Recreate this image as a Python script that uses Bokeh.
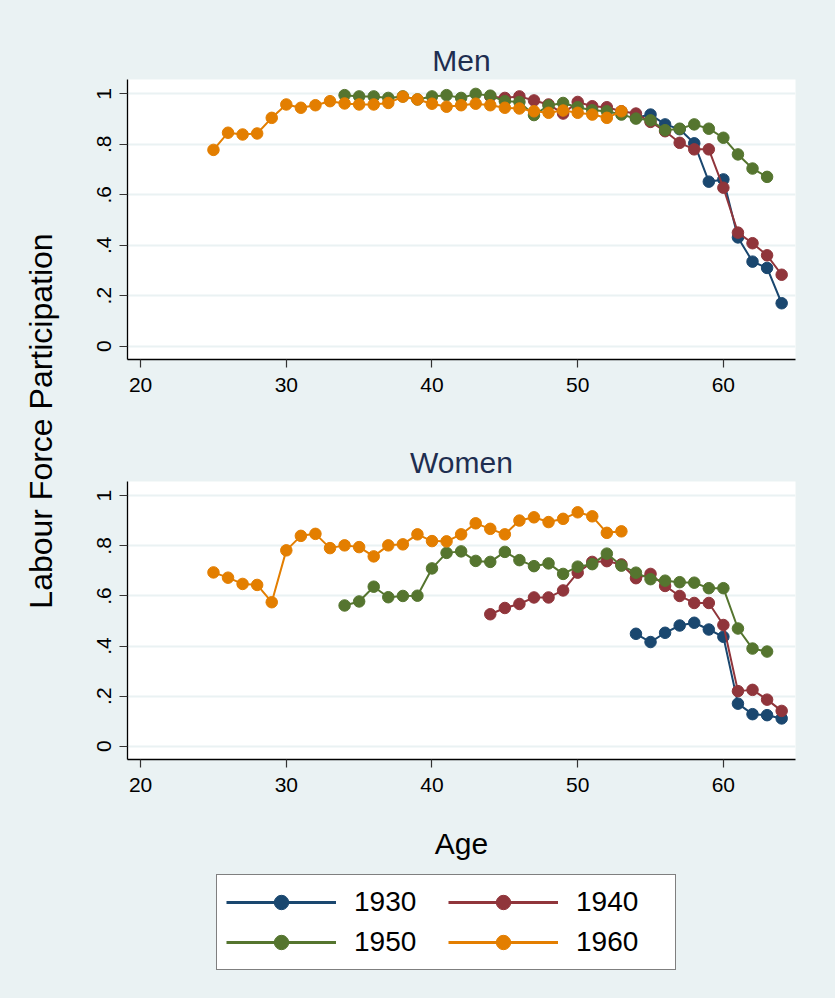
import math
from bokeh.plotting import figure
from bokeh.layouts import row, column
from bokeh.models import Range1d, FixedTicker, Legend, LegendItem, ColumnDataSource
from bokeh.core.properties import value
from bokeh.embed import file_html
from bokeh.resources import INLINE

# ---------------- data ----------------
cohorts = ["1930", "1940", "1950", "1960"]
colors = ["#1A476F", "#90353B", "#55752F", "#E37E00"]

ages_1930 = [54, 55, 56, 57, 58, 59, 60, 61, 62, 63, 64]
ages_1940 = [44, 45, 46, 47, 48, 49, 50, 51, 52, 53, 54, 55, 56, 57, 58, 59, 60, 61, 62, 63, 64]
ages_1950 = [34, 35, 36, 37, 38, 39, 40, 41, 42, 43, 44, 45, 46, 47, 48, 49, 50, 51, 52, 53,
             54, 55, 56, 57, 58, 59, 60, 61, 62, 63]
ages_1960 = [25, 26, 27, 28, 29, 30, 31, 32, 33, 34, 35, 36, 37, 38, 39, 40, 41, 42, 43, 44,
             45, 46, 47, 48, 49, 50, 51, 52, 53]

men_1930 = [0.905, 0.918, 0.879, 0.860, 0.804, 0.652, 0.661, 0.431, 0.335, 0.310, 0.170]
men_1940 = [0.990, 0.984, 0.990, 0.974, 0.958, 0.922, 0.968, 0.951, 0.947, 0.931, 0.922,
            0.889, 0.852, 0.806, 0.780, 0.780, 0.628, 0.450, 0.408, 0.360, 0.283]
men_1950 = [0.995, 0.990, 0.990, 0.984, 0.990, 0.978, 0.990, 0.995, 0.984, 1.000, 0.993,
            0.971, 0.968, 0.916, 0.954, 0.964, 0.947, 0.935, 0.931, 0.918, 0.902, 0.895,
            0.856, 0.862, 0.879, 0.862, 0.826, 0.760, 0.704, 0.671]
men_1960 = [0.778, 0.846, 0.839, 0.843, 0.905, 0.958, 0.945, 0.955, 0.971, 0.962, 0.958,
            0.958, 0.964, 0.989, 0.978, 0.961, 0.949, 0.955, 0.961, 0.955, 0.945, 0.942,
            0.931, 0.925, 0.934, 0.925, 0.918, 0.905, 0.931]

women_1930 = [0.449, 0.416, 0.453, 0.482, 0.493, 0.466, 0.437, 0.170, 0.128, 0.124, 0.111]
women_1940 = [0.527, 0.552, 0.568, 0.594, 0.594, 0.622, 0.693, 0.736, 0.739, 0.726, 0.671,
              0.688, 0.640, 0.600, 0.572, 0.572, 0.484, 0.220, 0.225, 0.186, 0.141]
women_1950 = [0.562, 0.578, 0.637, 0.595, 0.600, 0.601, 0.710, 0.772, 0.778, 0.740, 0.736,
              0.776, 0.743, 0.719, 0.730, 0.688, 0.717, 0.727, 0.769, 0.721, 0.693, 0.667,
              0.661, 0.655, 0.653, 0.631, 0.631, 0.470, 0.390, 0.378]
women_1960 = [0.694, 0.673, 0.648, 0.644, 0.575, 0.782, 0.840, 0.848, 0.791, 0.802, 0.795,
              0.758, 0.802, 0.806, 0.846, 0.819, 0.818, 0.846, 0.890, 0.868, 0.846, 0.901,
              0.914, 0.895, 0.908, 0.934, 0.918, 0.852, 0.858]

x_ticks = [20, 30, 40, 50, 60]
y_ticks = [0, 0.2, 0.4, 0.6, 0.8, 1]
y_tick_labels = ["0", ".2", ".4", ".6", ".8", "1"]

ages = [ages_1930, ages_1940, ages_1950, ages_1960]
men = [men_1930, men_1940, men_1950, men_1960]
women = [women_1930, women_1940, women_1950, women_1960]

# ---------------- styling ----------------
BG = "#EAF2F3"
FONT = "Liberation Sans"
TITLE_COLOR = "#1E2E50"


def panel(title, series, height, mb_top, mb_bottom, xlabel=None):
    p = figure(width=760, height=height, output_backend="svg", toolbar_location=None,
               x_range=Range1d(19.1, 64.95), y_range=Range1d(-0.053, 1.057),
               min_border_left=52, min_border_right=40,
               min_border_top=mb_top, min_border_bottom=mb_bottom)
    p.background_fill_color = "white"
    p.border_fill_color = BG
    p.outline_line_color = None
    p.title.text = title
    p.title.align = "center"
    p.title.text_font = FONT
    p.title.text_font_size = "30px"
    p.title.text_font_style = "normal"
    p.title.text_color = TITLE_COLOR
    p.title.standoff = 6

    p.xgrid.grid_line_color = None
    p.ygrid.grid_line_color = BG
    p.ygrid.grid_line_width = 2
    p.ygrid.ticker = FixedTicker(ticks=y_ticks)

    p.xaxis.ticker = FixedTicker(ticks=x_ticks)
    p.yaxis.ticker = FixedTicker(ticks=y_ticks)
    p.yaxis.major_label_overrides = {t: l for t, l in zip(y_ticks, y_tick_labels)}
    p.yaxis.major_label_orientation = "parallel"
    for ax in (p.xaxis, p.yaxis):
        ax.axis_line_color = "black"
        ax.axis_line_width = 1.3
        ax.major_tick_line_color = "#333333"
        ax.major_tick_line_width = 1.2
        ax.major_tick_out = 8
        ax.major_tick_in = 0
        ax.minor_tick_line_color = None
        ax.major_label_text_font = FONT
        ax.major_label_text_font_size = "21px"
        ax.major_label_text_color = "black"
    p.xaxis.major_label_standoff = 10
    p.yaxis.major_label_standoff = 8
    if xlabel:
        p.xaxis.axis_label = xlabel
        p.xaxis.axis_label_text_font = FONT
        p.xaxis.axis_label_text_font_size = "30px"
        p.xaxis.axis_label_text_font_style = "normal"
        p.xaxis.axis_label_text_color = "black"
        p.xaxis.axis_label_standoff = 32

    for a, v, c in zip(ages, series, colors):
        src = ColumnDataSource(dict(age=a, lfp=v))
        p.line("age", "lfp", source=src, line_color=c, line_width=2)
        p.scatter("age", "lfp", source=src, size=11.5, fill_color=c, line_color=c)
    return p


p_men = panel("Men", men, 420, 79, 61)
p_women = panel("Women", women, 442, 61, 101, xlabel="Age")

# left strip with the shared y-axis title
p_left = figure(width=75, height=862, output_backend="svg", toolbar_location=None,
                x_range=Range1d(0, 75), y_range=Range1d(0, 862),
                x_axis_type=None, y_axis_type=None, min_border=0)
p_left.grid.visible = False
p_left.outline_line_color = None
p_left.background_fill_color = BG
p_left.border_fill_color = BG
p_left.text(x=[40], y=[862 - 420.5], text=["Labour Force Participation"], angle=math.pi / 2,
            text_align="center", text_baseline="middle", text_font=value(FONT),
            text_font_size="32px", text_color="black")

# legend strip (its renderers hold one real point each, outside the visible range)
p_leg = figure(width=835, height=136, output_backend="svg", toolbar_location=None,
               x_range=Range1d(0, 1), y_range=Range1d(0, 1),
               x_axis_type=None, y_axis_type=None, min_border=0)
p_leg.grid.visible = False
p_leg.outline_line_color = None
p_leg.background_fill_color = BG
p_leg.border_fill_color = BG
item_by_name = {}
for name, c, a, v in zip(cohorts, colors, ages, men):
    src = ColumnDataSource(dict(x=a[:1], y=v[:1]))
    r1 = p_leg.line("x", "y", source=src, line_color=c, line_width=3)
    r2 = p_leg.scatter("x", "y", source=src, size=14, fill_color=c, line_color=c)
    item_by_name[name] = LegendItem(label=name, renderers=[r1, r2])
# column-major filling: 1930/1950 in first column, 1940/1960 in second
legend_order = ["1930", "1950", "1940", "1960"]
legend = Legend(items=[item_by_name[n] for n in legend_order], ncols=2, location=(216, 28),
                glyph_width=110, glyph_height=36, label_standoff=18, label_width=90,
                label_height=36, spacing=4, padding=9, margin=0,
                label_text_font=FONT, label_text_font_size="28px", label_text_color="black",
                border_line_color="black", border_line_width=1.5,
                background_fill_color="white", background_fill_alpha=1)
p_leg.add_layout(legend, "center")

bg_style = {"background-color": BG}
inner = column(p_men, p_women, spacing=0, styles=bg_style)
top = row(p_left, inner, spacing=0, styles=bg_style)
layout = column(top, p_leg, spacing=0, styles=bg_style)

open("out.html", "w").write(file_html(layout, INLINE))
